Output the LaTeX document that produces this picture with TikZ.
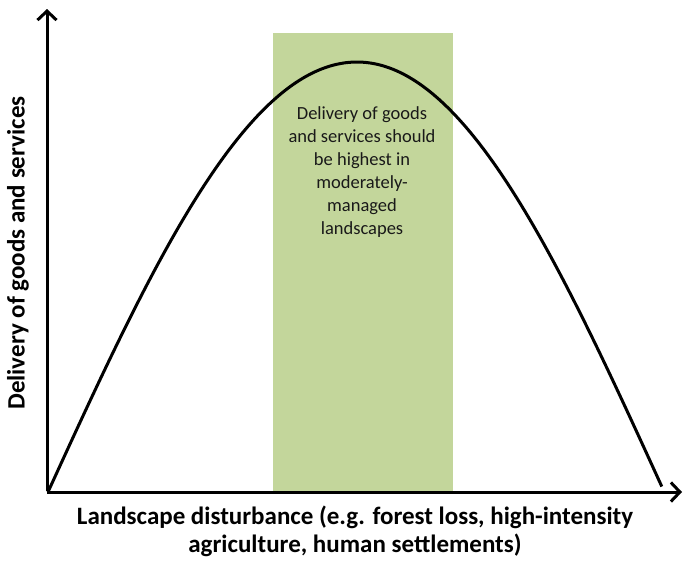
\documentclass[tikz,border=0pt]{standalone}
\usepackage{fontspec}
\setmainfont{Carlito}
\usetikzlibrary{arrows.meta}
\definecolor{bandgreen}{HTML}{C3D69B}
\begin{document}
\begin{tikzpicture}[x=1pt,y=-1pt,
  axisline/.style={line width=3pt, -{Straight Barb[length=9pt,width=19pt]}},
  curveline/.style={line width=3pt, line join=round},
  bandbox/.style={fill=bandgreen, draw=none},
  msgtext/.style={align=center, font=\fontsize{18.5}{23}\selectfont, text=black!90},
  axislabel/.style={align=center, font=\bfseries\fontsize{25}{28}\selectfont}]
\useasboundingbox (0,0) rectangle (683,560);
\fill[white] (0,0) rectangle (683,560);
% green band
\path[bandbox] (273,33) rectangle (453,492);
% curve
\draw[curveline] plot[domain=0:1, samples=60, smooth] ({48+309*\x},{492-430*sin(90*\x)})
  -- plot[domain=1:0, samples=60, smooth] ({662-305*\x},{487-425*sin(90*\x)});
% axes
\coordinate (o) at (47,492);
\coordinate (xend) at (682,492);
\coordinate (yend) at (47,9);
\draw[axisline] (o) -- (xend);
\draw[axisline] ([yshift=1.5pt]o) -- (yend);
% texts
\node[msgtext] (msg) at (362,172) {Delivery of goods\\and services should\\be highest in\\moderately-\\managed\\landscapes};
\node[axislabel] (xlab) at (355,531) {Landscape disturbance (e.g. forest loss, high-intensity\\agriculture, human settlements)};
\node[axislabel, rotate=90] (ylab) at (18,253) {Delivery of goods and services};
\end{tikzpicture}
\end{document}
